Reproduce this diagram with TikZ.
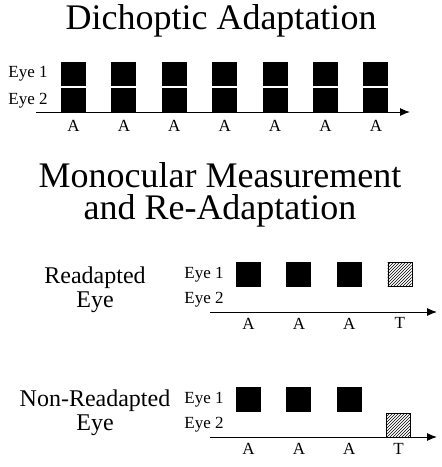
\documentclass[tikz,border=0pt]{standalone}
\usepackage{fontspec}
\setmainfont{Liberation Serif}
\usetikzlibrary{arrows.meta, patterns}
\usetikzlibrary{positioning}
\tikzstyle{title} = [font=\fontsize{36}{32}\selectfont, align=center, inner sep=0pt]
\tikzstyle{side} = [font=\fontsize{24}{24}\selectfont, align=center, inner sep=0pt]
\tikzstyle{eye} = [font=\fontsize{17}{17}\selectfont, inner sep=0pt]
\tikzstyle{tick} = [font=\fontsize{17}{17}\selectfont, inner sep=0pt]
\tikzstyle{adapt} = [rectangle, fill=black, minimum width=25pt, minimum height=24pt, inner sep=0pt]
\tikzstyle{test} = [rectangle, draw=black, pattern=north east lines, minimum size=24pt, inner sep=0pt]
\tikzstyle{axis} = [line width=1pt, -{Latex[length=10pt,width=8pt]}]

\begin{document}
\begin{tikzpicture} [x=1pt, y=-1pt]
    \useasboundingbox (0,0) rectangle (442,467);

    % dichoptic adaptation
    \node (dtitle) [title, anchor=base] at (221,29.5) {Dichoptic Adaptation};
    \node (a1) [adapt] at (73.5,74) {};
    \node (a2) [adapt, right=25pt of a1] {};
    \node (a3) [adapt, right=25pt of a2] {};
    \node (a4) [adapt, right=25pt of a3] {};
    \node (a5) [adapt, right=25pt of a4] {};
    \node (a6) [adapt, right=25pt of a5] {};
    \node (a7) [adapt, right=25pt of a6] {};
    \node (b1) [adapt, below=2pt of a1] {};
    \node (b2) [adapt, below=2pt of a2] {};
    \node (b3) [adapt, below=2pt of a3] {};
    \node (b4) [adapt, below=2pt of a4] {};
    \node (b5) [adapt, below=2pt of a5] {};
    \node (b6) [adapt, below=2pt of a6] {};
    \node (b7) [adapt, below=2pt of a7] {};
    \node (de1) [eye, left=13pt of a1] {Eye 1};
    \node (de2) [eye, left=13pt of b1] {Eye 2};
    \node (da1) [tick, below=7.5pt of b1] {A};
    \node (da2) [tick, below=7.5pt of b2] {A};
    \node (da3) [tick, below=7.5pt of b3] {A};
    \node (da4) [tick, below=7.5pt of b4] {A};
    \node (da5) [tick, below=7.5pt of b5] {A};
    \node (da6) [tick, below=7.5pt of b6] {A};
    \node (da7) [tick, below=7.5pt of b7] {A};
    \coordinate (dstart) at (36,112);
    \coordinate (dend) at (410,112);

    % monocular, readapted eye
    \node (mtitle) [title, anchor=base] at (220,219) {Monocular Measurement\\and Re-Adaptation};
    \node (rlabel) [side] at (95,289.5) {Readapted\\Eye};
    \node (r1) [adapt, minimum height=25pt] at (248.5,274.5) {};
    \node (r2) [adapt, minimum height=25pt, right=25pt of r1] {};
    \node (r3) [adapt, minimum height=25pt, right=25pt of r2] {};
    \node (rt) [test, right=25.5pt of r3] {};
    \node (re1) [eye, left=12pt of r1] {Eye 1};
    \node (re2) [eye, below=9.8pt of re1] {Eye 2};
    \node (ra1) [tick, below=30.5pt of r1] {A};
    \node (ra2) [tick, below=30.5pt of r2] {A};
    \node (ra3) [tick, below=30.5pt of r3] {A};
    \node (rat) [tick, below=30.5pt of rt] {T};
    \coordinate (rstart) at (210,312);
    \coordinate (rend) at (437,312);

    % monocular, non-readapted eye
    \node (nlabel) [side] at (95,413) {Non-Readapted\\Eye};
    \node (n1) [adapt, minimum height=25pt] at (248.5,399.5) {};
    \node (n2) [adapt, minimum height=25pt, right=25pt of n1] {};
    \node (n3) [adapt, minimum height=25pt, right=25pt of n2] {};
    \node (nt) [test] at (398.5,425) {};
    \node (ne1) [eye, left=12pt of n1] {Eye 1};
    \node (ne2) [eye, below=9.8pt of ne1] {Eye 2};
    \node (na1) [tick, below=30.5pt of n1] {A};
    \node (na2) [tick, below=30.5pt of n2] {A};
    \node (na3) [tick, below=30.5pt of n3] {A};
    \node (nat) [tick, below=5.5pt of nt] {T};
    \coordinate (nstart) at (210,437);
    \coordinate (nend) at (437,437);

    \draw[axis] (dstart) -- (dend);
    \draw[axis] (rstart) -- (rend);
    \draw[axis] (nstart) -- (nend);

\end{tikzpicture}
\end{document}
